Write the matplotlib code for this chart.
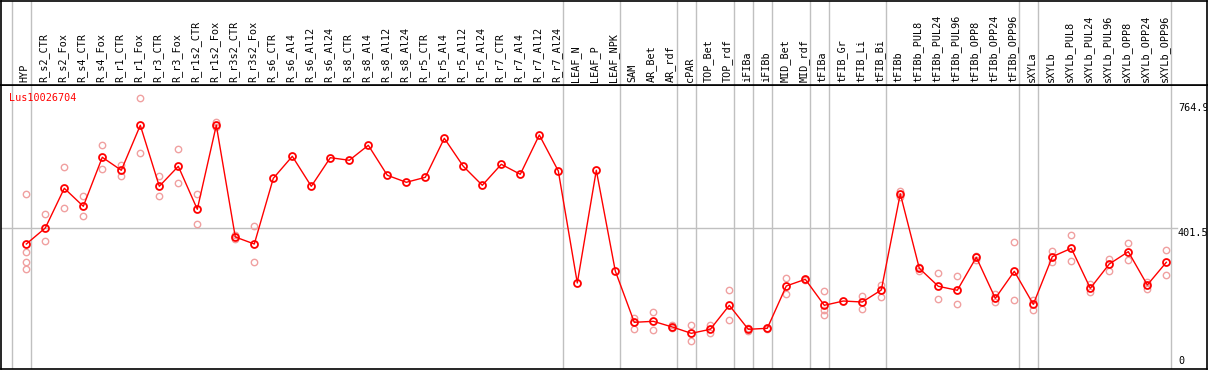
import matplotlib
matplotlib.use("Agg")
import matplotlib.pyplot as plt
import numpy as np

# categories along the x axis
labels = ["HYP", "R_s2_CTR", "R_s2_Fox", "R_s4_CTR", "R_s4_Fox", "R_r1_CTR", "R_r1_Fox",
          "R_r3_CTR", "R_r3_Fox", "R_r1s2_CTR", "R_r1s2_Fox", "R_r3s2_CTR", "R_r3s2_Fox",
          "R_s6_CTR", "R_s6_Al4", "R_s6_Al12", "R_s6_Al24", "R_s8_CTR", "R_s8_Al4",
          "R_s8_Al12", "R_s8_Al24", "R_r5_CTR", "R_r5_Al4", "R_r5_Al12", "R_r5_Al24",
          "R_r7_CTR", "R_r7_Al4", "R_r7_Al12", "R_r7_Al24", "LEAF_N", "LEAF_P", "LEAF_NPK",
          "SAM", "AR_Bet", "AR_rdf", "cPAR", "TOP_Bet", "TOP_rdf", "iFIBa", "iFIBb",
          "MID_Bet", "MID_rdf", "tFIBa", "tFIB_Gr", "tFIB_Li", "tFIB_Bi", "tFIBb",
          "tFIBb_PUL8", "tFIBb_PUL24", "tFIBb_PUL96", "tFIBb_OPP8", "tFIBb_OPP24",
          "tFIBb_OPP96", "sXYLa", "sXYLb", "sXYLb_PUL8", "sXYLb_PUL24", "sXYLb_PUL96",
          "sXYLb_OPP8", "sXYLb_OPP24", "sXYLb_OPP96"]

# mean expression
means = [354.9, 401.5, 516.9, 464.5, 607.0, 569.2, 700.0, 522.7, 580.8, 455.8, 700.0,
         375.3, 354.9, 545.9, 609.9, 522.7, 605.8, 598.3, 641.9, 554.7, 534.3, 548.8,
         662.2, 580.8, 525.6, 586.6, 557.6, 671.8, 567.2, 241.6, 569.2, 276.5,
         127.3, 130.2, 113.7, 95.3, 107.0, 176.7, 107.0, 109.9, 232.9, 252.3,
         176.7, 189.2, 186.3, 221.2, 500.9, 284.3, 232.0, 220.4, 316.3, 197.1, 275.6,
         179.7, 318.0, 342.4, 226.2, 296.8, 332.6, 235.8, 301.7]

# replicate values
reps = [[499.4, 330.8, 302.6, 281.4], [441.3, 362.8], [577.9, 458.7], [494.5, 435.5],
        [641.9, 572.1], [585.5, 553.5], [778.5, 618.6], [551.7, 493.6], [630.2, 531.4],
        [499.4, 412.2], [710.5, 695.9], [381.1, 368.6], [406.4, 302.6],
        [], [], [], [], [], [], [], [], [], [], [], [], [], [], [], [], [], [], [],
        [140.7, 108.7], [156.4, 105.8], [119.5, 109.9], [118.6, 72.1], [119.5, 97.1],
        [220.4, 134.0], [110.8, 103.5], [112.0, 108.0], [255.2, 210.5], [254.6, 250.0],
        [217.4, 147.7, 163.1], [], [203.8, 166.9], [234.9, 200.0], [509.6, 490.7],
        [289.0, 277.3], [269.8, 194.2], [261.1, 179.7], [320.9, 309.3], [210.5, 185.5],
        [359.9, 191.3], [192.2, 163.1], [334.6, 301.7], [380.2, 304.7], [237.8, 216.3],
        [311.3, 277.3], [357.9, 307.6], [245.4, 223.3], [336.6, 264.0]]

# group separators drawn after these categories
group_ends = [-1, 0, 28, 31, 34, 35, 37, 38, 39, 41, 42, 45, 52, 53, 60]
ticks = [764.9, 401.5, 0]
gene = "Lus10026704"

W, H = 1209, 370
fig = plt.figure(figsize=(W / 100, H / 100), dpi=100)
font = "DejaVu Sans Mono"
fs = 7.3

# pixel geometry
ax_l, ax_r, ax_t, ax_b = 1, 1207, 85, 369
ax = fig.add_axes([ax_l / W, (H - ax_b) / H, (ax_r - ax_l) / W, (ax_b - ax_t) / H])
hd = fig.add_axes([ax_l / W, (H - ax_t) / H, (ax_r - ax_l) / W, (ax_t - 0.5) / H])

x0, dx = 26.3, 19.0
xlim = ((ax_l - x0) / dx, (ax_r - x0) / dx)
ax.set_xlim(*xlim)
hd.set_xlim(*xlim)
hd.set_ylim(0, 1)
ax.set_ylim(-8.4, 817.1)

xs = np.arange(len(labels))

for a in (ax, hd):
    a.set_xticks([])
    a.set_yticks([])
    for s in a.spines.values():
        s.set_color("black")
        s.set_linewidth(1.2)
    for g in group_ends:
        a.axvline(g + 0.23, color="#c0c0c0", lw=1.0, zorder=0)

ax.axhline(401.5, xmax=0.975, color="#c0c0c0", lw=1.0, zorder=0)

# replicates
for i, r in enumerate(reps):
    if r:
        ax.plot([i] * len(r), r, "o", ms=4.6, mfc="none", mec="#f0a0a0", mew=1.0,
                ls="none", zorder=2)

ax.plot(xs, means, color="red", lw=1.0, marker="o", ms=5.0, mfc="none", mec="red",
        mew=1.3, zorder=3)

for i, lab in enumerate(labels):
    hd.text(i - 0.08, 0.03, lab, rotation=90, ha="center", va="bottom",
            fontsize=fs, family=font, color="black")

ax.text(0.0066, 0.972, gene, transform=ax.transAxes, ha="left", va="top",
        fontsize=fs, family=font, color="red")

tx = (1178 - x0) / dx
for t in ticks:
    ax.text(tx, t, f"{t:g}", ha="left", va="bottom" if t == 0 else "top",
            fontsize=fs, family=font, color="black", clip_on=True)

fig.savefig("out.png", dpi=100)
